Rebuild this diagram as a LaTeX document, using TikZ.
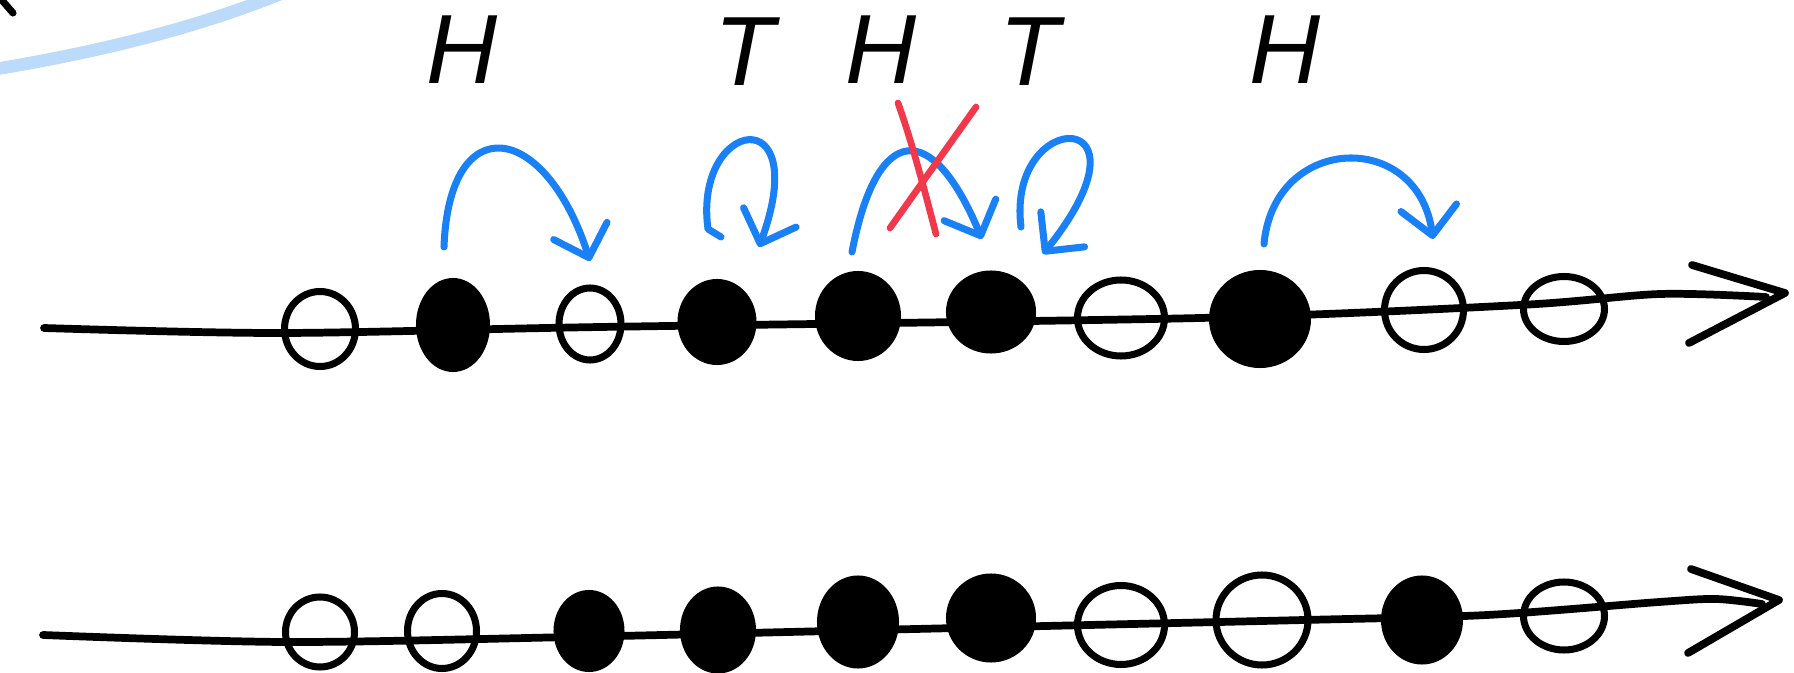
\documentclass[tikz,border=0pt]{standalone}
\usepackage{fontspec}
\setmainfont{Liberation Sans}
\usetikzlibrary{shapes.geometric,arrows.meta}
\definecolor{hopblue}{HTML}{1A80F5}
\definecolor{crossred}{HTML}{F2394B}
\definecolor{chalkblue}{HTML}{BCDAFA}

\begin{document}
\begin{tikzpicture}[line cap=round,line join=round,
    hole/.style={ellipse,draw,line width=2pt,inner sep=0pt},
    blob/.style={ellipse,draw,fill=black,line width=2pt,inner sep=0pt},
    coin/.style={font=\fontsize{28}{30}\selectfont\itshape},
    hop/.style={draw=hopblue,line width=2pt,-{Straight Barb[length=2.8mm,width=5.6mm,round]}},
    cross/.style={draw=crossred,line width=1.9pt}]
        \useasboundingbox (0,0) rectangle (17.94,6.72);
        % leftovers at the top left
        \draw[chalkblue,line width=3.6pt] (-0.1,6.02) .. controls (1.0,6.2) and (2.0,6.45) .. (2.85,6.8);
        \draw[line width=2pt] (0,6.74) -- (0.13,6.59);
        % time lines
        \draw[line width=2.2pt] plot[smooth] coordinates {(0.44,3.44) (2.8,3.39) (6.0,3.45) (12.0,3.54) (15.2,3.67) (16.6,3.78) (17.66,3.75)};
        \draw[line width=2.2pt] (16.92,4.07) -- (17.85,3.79) -- (16.89,3.29);
        \draw[line width=2.2pt] plot[smooth] coordinates {(0.43,0.37) (2.86,0.30) (5.72,0.35) (9.15,0.43) (13.04,0.52) (14.87,0.57) (16.59,0.70) (17.16,0.73) (17.62,0.68)};
        \draw[line width=2.2pt] (16.91,1.03) -- (17.79,0.72) -- (16.88,0.19);
        % top row
        \node[hole,minimum width=7.1mm,minimum height=7.5mm] (t1) at (3.20,3.43) {};
        \node[blob,minimum width=6.7mm,minimum height=8.7mm] (t2) at (4.53,3.47) {};
        \node[hole,minimum width=6.2mm,minimum height=7.2mm] (t3) at (5.90,3.48) {};
        \node[blob,minimum width=7.2mm,minimum height=7.9mm] (t4) at (7.17,3.50) {};
        \node[blob,minimum width=7.9mm,minimum height=8.3mm] (t5) at (8.58,3.56) {};
        \node[blob,minimum width=8.3mm,minimum height=7.6mm] (t6) at (9.91,3.60) {};
        \node[hole,minimum width=8.7mm,minimum height=7.6mm] (t7) at (11.21,3.54) {};
        \node[blob,minimum width=9.5mm,minimum height=9.1mm] (t8) at (12.60,3.53) {};
        \node[hole,minimum width=7.9mm,minimum height=7.9mm] (t9) at (14.24,3.62) {};
        \node[hole,minimum width=8.1mm,minimum height=6.5mm] (t10) at (15.64,3.63) {};
        % bottom row
        \node[hole,minimum width=6.9mm,minimum height=7.0mm] (b1) at (3.20,0.40) {};
        \node[hole,minimum width=6.9mm,minimum height=7.5mm] (b2) at (4.42,0.41) {};
        \node[blob,minimum width=6.4mm,minimum height=7.5mm] (b3) at (5.89,0.41) {};
        \node[blob,minimum width=6.9mm,minimum height=8.0mm] (b4) at (7.18,0.42) {};
        \node[blob,minimum width=7.5mm,minimum height=8.6mm] (b5) at (8.58,0.50) {};
        \node[blob,minimum width=8.3mm,minimum height=8.2mm] (b6) at (9.91,0.54) {};
        \node[hole,minimum width=8.7mm,minimum height=7.9mm] (b7) at (11.21,0.47) {};
        \node[hole,minimum width=9.2mm,minimum height=9.0mm] (b8) at (12.62,0.52) {};
        \node[blob,minimum width=7.5mm,minimum height=8.2mm] (b9) at (14.22,0.52) {};
        \node[hole,minimum width=8.1mm,minimum height=6.8mm] (b10) at (15.64,0.56) {};
        % coin flips
        \node[coin] (f1) at (4.62,6.22) {H};
        \node[coin] (f2) at (7.45,6.20) {T};
        \node[coin] (f3) at (8.81,6.22) {H};
        \node[coin] (f4) at (10.30,6.20) {T};
        \node[coin] (f5) at (12.85,6.22) {H};
        % hops
        \draw[hop] ([xshift=-0.9mm,yshift=3.1mm]t2.north) .. controls +(0.05,1.4) and +(-0.45,1.4) .. ([yshift=2.35mm]t3.north);
        \draw[hop] ([xshift=0.4mm,yshift=4.2mm]t4.north) -- ++(-0.13,0.08) .. controls +(-0.15,1.1) and +(0.55,1.5) .. ([xshift=4.2mm,yshift=3.2mm]t4.north);
        \draw[hop] ([xshift=-0.6mm,yshift=1.9mm]t5.north) .. controls +(0.25,1.3) and +(-0.5,1.2) .. ([xshift=-0.9mm,yshift=3.15mm]t6.north);
        \draw[hop] ([xshift=3.0mm,yshift=4.35mm]t6.north) .. controls +(-0.15,1.2) and +(1.2,1.5) .. ([xshift=5.2mm,yshift=1.65mm]t6.north);
        \draw[hop] ([xshift=0.4mm,yshift=2.6mm]t8.north) .. controls +(0.1,1.1) and +(-0.15,1.1) .. ([xshift=0.9mm,yshift=2.8mm]t9.north);
        % struck out
        \draw[cross] (8.98,5.69) .. controls (9.12,5.30) and (9.25,4.80) .. (9.36,4.38);
        \draw[cross] (9.76,5.65) -- (8.90,4.44);
    \end{tikzpicture}
\end{document}
